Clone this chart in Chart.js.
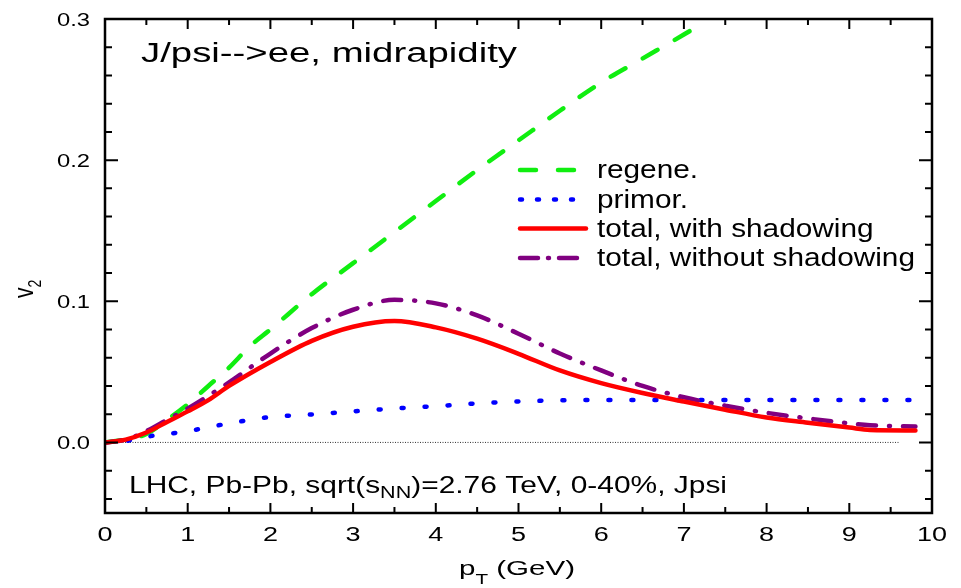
<!DOCTYPE html>
<html>
<head>
<meta charset="utf-8">
<title>J/psi v2 vs pT</title>
<script src="https://cdn.jsdelivr.net/npm/chart.js@4.4.1/dist/chart.umd.min.js"></script>
<style>
  html, body { margin: 0; padding: 0; background: #fff; }
  #wrap { width: 961px; height: 588px; position: relative; }
</style>
</head>
<body>
<div id="wrap"><canvas id="v2Chart"></canvas></div>
<script>
// v2(pT) curves for J/psi -> ee at midrapidity
const ptRegene = [0, 0.25, 0.5, 0.75, 1, 1.25, 1.5, 1.75, 2, 2.5, 3, 3.5, 4, 4.5, 5, 5.5, 6, 6.5, 7, 7.2];
const v2Regene = [0, 0.002, 0.006, 0.016, 0.027, 0.040, 0.053, 0.068, 0.080, 0.105, 0.127, 0.149, 0.171, 0.193, 0.214, 0.235, 0.255, 0.272, 0.289, 0.296];

const ptPrimor = [0, 0.25, 0.5, 1, 1.5, 2, 2.5, 3, 3.5, 4, 4.5, 5, 5.5, 6, 7, 8, 9, 9.8];
const v2Primor = [0, 0.001, 0.004, 0.008, 0.0135, 0.018, 0.0198, 0.022, 0.024, 0.0257, 0.0276, 0.029, 0.0298, 0.030, 0.030, 0.030, 0.030, 0.030];

const ptTotal = [0, 0.25, 0.5, 0.75, 1, 1.25, 1.5, 2, 2.5, 3, 3.5, 4, 4.5, 5, 5.5, 6, 6.5, 7, 7.5, 8, 8.5, 9, 9.25, 9.8];
const v2Shadow = [0, 0.002, 0.007, 0.0145, 0.022, 0.030, 0.040, 0.057, 0.072, 0.082, 0.086, 0.0815, 0.0735, 0.0628, 0.051, 0.042, 0.035, 0.029, 0.0232, 0.0177, 0.014, 0.0105, 0.0088, 0.0085];
const v2NoShadow = [0, 0.002, 0.008, 0.016, 0.024, 0.033, 0.0425, 0.063, 0.081, 0.094, 0.101, 0.0985, 0.090, 0.077, 0.063, 0.051, 0.040, 0.032, 0.026, 0.021, 0.017, 0.0135, 0.0122, 0.0113];

const zeroLineX = [0, 9.6];
const zeroLineY = [0, 0];

const seriesNames = ["regene.", "primor.", "total, with shadowing", "total, without shadowing"];

const xMajorTicks = [0, 1, 2, 3, 4, 5, 6, 7, 8, 9, 10];
const xMinorTicks = [0.5, 1.5, 2.5, 3.5, 4.5, 5.5, 6.5, 7.5, 8.5, 9.5];
const yMajorTicks = [0, 0.1, 0.2, 0.3];
const yTickLabels = ["0.0", "0.1", "0.2", "0.3"];
const yMinorTicks = [-0.04, -0.02, 0.02, 0.04, 0.06, 0.08, 0.12, 0.14, 0.16, 0.18, 0.22, 0.24, 0.26, 0.28];

const FONT = '"Liberation Sans", Arial, sans-serif';

function pts(xs, ys) {
  return xs.map((x, i) => ({ x: x, y: ys[i] }));
}

// text pieces: [{t, sub}] ; sub pieces are smaller and shifted down
function richWidth(ctx, parts, size, subScale) {
  let w = 0;
  parts.forEach(p => {
    ctx.font = (p.sub ? size * subScale : size) + "px " + FONT;
    w += ctx.measureText(p.t).width;
  });
  return w;
}

function drawRich(ctx, parts, x, y, size, opts) {
  const subScale = opts.subScale || 0.7;
  const subDy = opts.subDy || size * 0.25;
  const natural = richWidth(ctx, parts, size, subScale);
  const sx = opts.width ? opts.width / natural : (opts.sx || 1);
  ctx.save();
  ctx.translate(x, y);
  ctx.scale(sx, 1);
  ctx.fillStyle = "#000";
  ctx.textAlign = "left";
  ctx.textBaseline = "alphabetic";
  let cx = 0;
  if (opts.align === "right") cx = -natural;
  if (opts.align === "center") cx = -natural / 2;
  parts.forEach(p => {
    ctx.font = (p.sub ? size * subScale : size) + "px " + FONT;
    ctx.fillText(p.t, cx, p.sub ? subDy : 0);
    cx += ctx.measureText(p.t).width;
  });
  ctx.restore();
  return sx;
}

const framePlugin = {
  id: "frame",
  afterDraw(chart) {
    const { ctx, chartArea: a, scales: { x, y } } = chart;
    ctx.save();

    // box
    ctx.strokeStyle = "#000";
    ctx.lineWidth = 2.5;
    ctx.strokeRect(a.left, a.top, a.right - a.left, a.bottom - a.top);

    // inward ticks on all four sides
    ctx.lineWidth = 2;
    ctx.beginPath();
    const xTick = (v, len) => {
      const px = x.getPixelForValue(v);
      ctx.moveTo(px, a.bottom); ctx.lineTo(px, a.bottom - len);
      ctx.moveTo(px, a.top); ctx.lineTo(px, a.top + len);
    };
    const yTick = (v, len) => {
      const py = y.getPixelForValue(v);
      ctx.moveTo(a.left, py); ctx.lineTo(a.left + len, py);
      ctx.moveTo(a.right, py); ctx.lineTo(a.right - len, py);
    };
    xMajorTicks.forEach(v => xTick(v, 10));
    xMinorTicks.forEach(v => xTick(v, 6));
    yMajorTicks.forEach(v => yTick(v, 13));
    yMinorTicks.forEach(v => yTick(v, 7));
    ctx.stroke();

    // tick labels
    xMajorTicks.forEach(v => {
      drawRich(ctx, [{ t: String(v) }], x.getPixelForValue(v), 541, 20, { sx: 1.35, align: "center" });
    });
    yMajorTicks.forEach((v, i) => {
      drawRich(ctx, [{ t: yTickLabels[i] }], a.left - 15, y.getPixelForValue(v) + 6.5, 18, { sx: 1.32, align: "right" });
    });

    // axis titles
    drawRich(ctx, [{ t: "p" }, { t: "T", sub: true }, { t: " (GeV)" }], 459, 575, 20,
      { width: 116, subScale: 0.7, subDy: 9 });

    ctx.save();
    ctx.translate(33, 298);
    ctx.scale(1.35, 1);
    ctx.rotate(-Math.PI / 2);
    ctx.fillStyle = "#000";
    ctx.font = "21px " + FONT;
    ctx.fillText("v", 0, 0);
    const vw = ctx.measureText("v").width;
    ctx.font = "14px " + FONT;
    ctx.fillText("2", vw, 6);
    ctx.restore();

    // annotations
    drawRich(ctx, [{ t: "J/psi-->ee, midrapidity" }], 141, 62, 27, { width: 376 });
    drawRich(ctx, [{ t: "LHC, Pb-Pb, sqrt(s" }, { t: "NN", sub: true }, { t: ")=2.76 TeV, 0-40%, Jpsi" }],
      129, 493, 24, { width: 598, subScale: 0.72, subDy: 5 });

    // legend
    const rows = [170, 199.5, 228.5, 258];
    const lsx = 318 / richWidth(ctx, [{ t: seriesNames[3] }], 26, 0.7);
    const sets = chart.data.datasets.filter(d => d.label);
    sets.forEach((d, i) => {
      const cy = rows[i];
      ctx.save();
      ctx.strokeStyle = d.borderColor;
      ctx.lineWidth = d.borderWidth;
      ctx.lineCap = d.borderCapStyle || "butt";
      ctx.setLineDash(d.legendDash || d.borderDash || []);
      ctx.beginPath();
      ctx.moveTo(520, cy);
      ctx.lineTo(586, cy);
      ctx.stroke();
      ctx.restore();
      drawRich(ctx, [{ t: d.label }], 597, cy + 8, 26, { sx: lsx });
    });

    ctx.restore();
  }
};

const ctx = document.getElementById("v2Chart").getContext("2d");

new Chart(ctx, {
  type: "line",
  data: {
    datasets: [
      {
        label: seriesNames[0],
        data: pts(ptRegene, v2Regene),
        borderColor: "#10ee10",
        borderWidth: 4.5,
        borderDash: [17, 20],
        legendDash: [16, 22],
        borderCapStyle: "round",
        order: 4
      },
      {
        label: seriesNames[1],
        data: pts(ptPrimor, v2Primor),
        borderColor: "#0000ff",
        borderWidth: 4.5,
        borderDash: [2, 21],
        legendDash: [2, 15],
        borderCapStyle: "round",
        order: 3
      },
      {
        label: seriesNames[2],
        data: pts(ptTotal, v2Shadow),
        borderColor: "#ff0000",
        borderWidth: 4.5,
        borderCapStyle: "round",
        order: 1
      },
      {
        label: seriesNames[3],
        data: pts(ptTotal, v2NoShadow),
        borderColor: "#800080",
        borderWidth: 4.5,
        borderDash: [18, 13, 1, 13],
        legendDash: [18, 10, 1, 10],
        borderCapStyle: "round",
        order: 2
      },
      {
        data: pts(zeroLineX, zeroLineY),
        borderColor: "#333",
        borderWidth: 1,
        borderDash: [1, 1.5],
        order: 5
      }
    ]
  },
  options: {
    responsive: true,
    maintainAspectRatio: false,
    animation: false,
    layout: { padding: { left: 105, right: 29, top: 19, bottom: 75 } },
    elements: {
      point: { radius: 0, hoverRadius: 0 },
      line: { cubicInterpolationMode: "monotone" }
    },
    scales: {
      x: { type: "linear", min: 0, max: 10, display: false },
      y: { type: "linear", min: -0.05, max: 0.3, display: false }
    },
    plugins: {
      legend: { display: false },
      tooltip: { enabled: false }
    }
  },
  plugins: [framePlugin]
});
</script>
</body>
</html>
